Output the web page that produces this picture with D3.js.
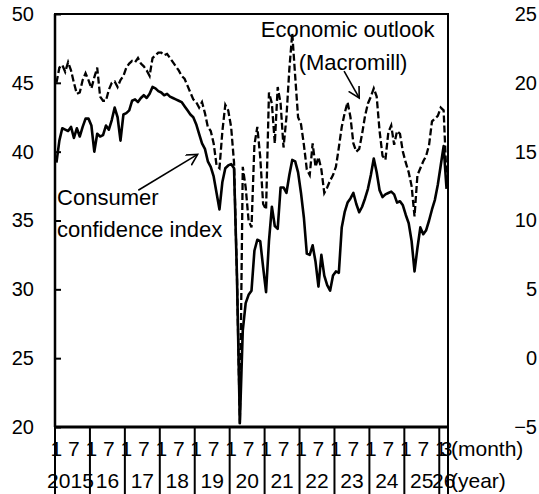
<!DOCTYPE html>
<html>
<head>
<meta charset="utf-8">
<script src="https://cdn.jsdelivr.net/npm/d3@7"></script>
<style>
  body { margin: 0; background: #fff; }
  text { font-family: "Liberation Sans", Arial, sans-serif; fill: #000; }
</style>
</head>
<body>
<div id="chart"></div>
<script>
// year labels along the bottom, months labelled in each year
var years = ['2015', '16', '17', '18', '19', '20', '21', '22', '23', '24', '25', '26']
var monthTicks = [1, 7]
var lastMonth = 3 // data ends March 2026

// consumer confidence index (left axis), monthly from Jan 2015
var cci = [
  39.2, 40.8, 41.7, 41.6, 41.5, 41.8, 41.0, 41.7, 41.1, 41.8, 42.4, 42.4,
  41.9, 40.0, 41.3, 41.1, 41.2, 41.9, 41.6, 42.3, 43.2, 42.5, 40.8, 42.7,
  42.8, 43.0, 43.7, 43.8, 43.6, 43.9, 44.1, 43.9, 44.2, 44.7, 44.6, 44.4,
  44.3, 44.1, 44.2, 44.0, 43.9, 43.8, 43.7, 43.6, 43.3, 43.0, 42.7, 42.5,
  42.0, 41.3, 40.6, 40.2, 39.3, 38.9, 38.2, 37.0, 35.8, 37.8, 38.8, 39.0,
  39.1, 38.8, 31.0, 20.3, 27.0, 29.0, 29.6, 29.9, 32.8, 33.6, 33.5, 31.6,
  29.8, 33.5, 36.0, 34.6, 34.4, 37.4, 37.4, 37.0, 38.3, 39.4, 39.3, 38.5,
  37.0, 35.2, 32.6, 32.5, 33.2, 32.0, 30.2, 32.5, 31.0, 30.3, 29.9, 31.0,
  31.3, 31.2, 34.5, 35.6, 36.3, 36.6, 37.0, 36.2, 35.6, 36.0, 36.6, 37.3,
  38.3, 39.5, 38.5, 37.2, 36.7, 36.9, 37.0, 37.1, 36.9, 36.3, 36.4, 36.1,
  35.4, 34.8, 33.5, 31.3, 33.0, 34.5, 34.0, 34.3, 35.0, 35.8, 36.5, 37.6,
  39.0, 40.4, 37.3
]

// economic outlook (Macromill), right axis
var macromill = [
  20.0, 21.1, 21.3, 20.8, 21.5, 20.9, 20.0, 19.2, 19.3, 20.2, 20.7, 20.2,
  19.6, 20.4, 21.1, 19.0, 18.7, 18.7, 19.5, 20.0, 20.1, 19.7, 20.2, 20.5,
  21.1, 21.4, 21.6, 21.5, 21.8, 21.4, 21.2, 20.9, 20.5, 21.8, 22.0, 22.2,
  22.2, 22.0, 22.1, 21.8, 21.5, 21.2, 20.9, 20.5, 20.3, 19.8, 19.3, 18.8,
  18.6, 18.2, 18.6, 17.8, 16.8, 16.5, 15.6, 14.0, 13.8, 16.5, 18.4, 18.0,
  16.8, 14.2, 6.0, -4.8, 13.9, 12.4, 10.0, 9.5, 15.5, 16.8, 14.6, 11.2,
  10.8, 19.3, 18.5, 15.6, 19.7, 18.5, 15.3, 17.5, 21.0, 23.6, 20.5, 17.5,
  17.0, 15.5, 13.7, 13.3, 15.6, 13.9, 14.6, 13.7, 12.0, 12.4, 12.9, 13.3,
  13.9, 15.3, 16.8, 17.8, 18.6, 17.5, 15.6, 15.0, 15.2, 16.3, 17.6, 18.5,
  19.0, 19.6, 19.0, 16.5, 14.7, 14.4, 16.4, 16.9, 15.5, 16.5, 16.3, 15.0,
  14.2, 13.5, 12.5, 10.3, 13.3, 13.8, 14.3, 14.7, 15.5, 17.2, 17.4, 17.6,
  18.2, 18.0, 13.0
]

var leftTicks = [20, 25, 30, 35, 40, 45, 50]
var rightTicks = [-5, 0, 5, 10, 15, 20, 25]

var W = 539, H = 494
var m = {left: 55, right: 91, top: 14, bottom: 67}
var nMonths = cci.length

var svg = d3.select('#chart').append('svg')
  .attr('width', W).attr('height', H)

var x = d3.scaleLinear().domain([0, nMonths]).range([m.left, W - m.right])
var yL = d3.scaleLinear().domain([20, 50]).range([H - m.bottom, m.top])
var yR = d3.scaleLinear().domain([-5, 25]).range([H - m.bottom, m.top])

var defs = svg.append('defs')
defs.append('marker')
  .attr('id', 'arr')
  .attr('markerUnits', 'userSpaceOnUse')
  .attr('markerWidth', 14).attr('markerHeight', 14)
  .attr('refX', 11).attr('refY', 6)
  .attr('orient', 'auto')
  .append('path')
  .attr('d', 'M0,0 L11,6 L0,12')
  .attr('fill', 'none').attr('stroke', '#000').attr('stroke-width', 1.6)

// left axis: ticks pointing inwards
var gl = svg.append('g')
  .attr('transform', 'translate(' + m.left + ',0)')
  .call(d3.axisLeft(yL).tickValues(leftTicks).tickSize(-6).tickPadding(21))
gl.select('.domain').remove()
gl.selectAll('.tick line').attr('stroke-width', 2)
gl.selectAll('text').style('font-size', '20px')

// right axis: labels only
var gr = svg.append('g')
  .attr('transform', 'translate(' + (W - 2) + ',0)')
  .call(d3.axisLeft(yR).tickValues(rightTicks).tickSize(0).tickPadding(0))
gr.select('.domain').remove()
gr.selectAll('text').style('font-size', '20px')

var line = function(yScale) {
  return d3.line()
    .x(function(d, i) { return x(i + 0.5) })
    .y(function(d) { return yScale(d) })
}

svg.append('path')
  .datum(cci)
  .attr('d', line(yL))
  .attr('fill', 'none').attr('stroke', '#000')
  .attr('stroke-width', 2.6).attr('stroke-linejoin', 'round')

svg.append('path')
  .datum(macromill)
  .attr('d', line(yR))
  .attr('fill', 'none').attr('stroke', '#000')
  .attr('stroke-width', 2.3).attr('stroke-dasharray', '7,3')

// frame
var x0 = x(0), x1 = x(nMonths), yT = yL(50), yB = yL(20)
svg.append('rect')
  .attr('x', x0).attr('y', yT).attr('width', x1 - x0).attr('height', yB - yT)
  .attr('fill', 'none').attr('stroke', '#000').attr('stroke-width', 2)
svg.append('line')
  .attr('x1', x0 - 1).attr('x2', x1 + 1).attr('y1', yB).attr('y2', yB)
  .attr('stroke', '#000').attr('stroke-width', 3)
svg.append('line')
  .attr('x1', x0).attr('x2', x0).attr('y1', yT).attr('y2', yB)
  .attr('stroke', '#000').attr('stroke-width', 2.5)

// x axis: year separators, month labels, year labels
var xg = svg.append('g')
years.forEach(function(yr, k) {
  var start = k * 12
  var end = Math.min(start + 12, nMonths)
  xg.append('line')
    .attr('x1', x(start)).attr('x2', x(start))
    .attr('y1', yB).attr('y2', H)
    .attr('stroke', '#000').attr('stroke-width', 2)
  var ticks = k === years.length - 1 ? [1, lastMonth] : monthTicks
  ticks.forEach(function(mo) {
    xg.append('text')
      .attr('x', x(start + mo - 0.5)).attr('y', yB + 29)
      .attr('text-anchor', 'middle')
      .style('font-size', '21px')
      .text(mo)
  })
  xg.append('text')
    .attr('x', x((start + end) / 2) - (k === 0 ? 2 : 0)).attr('y', yB + 61)
    .attr('text-anchor', 'middle')
    .style('font-size', '21px')
    .text(yr)
})
xg.append('line')
  .attr('x1', x1).attr('x2', x1).attr('y1', yT).attr('y2', H)
  .attr('stroke', '#000').attr('stroke-width', 2)

svg.append('text').attr('x', x1 + 3).attr('y', yB + 29)
  .style('font-size', '21px').text('(month)')
svg.append('text').attr('x', x1 + 3).attr('y', yB + 61)
  .style('font-size', '21px').text('(year)')

// annotations
var ann = svg.append('g').style('font-size', '22px')
ann.append('text').attr('x', x(70.7)).attr('y', yL(48.3)).text('Economic outlook')
ann.append('text').attr('x', x(83.7)).attr('y', yL(45.9)).text('(Macromill)')
ann.append('text').attr('x', x(0.7)).attr('y', yL(36.1)).text('Consumer')
ann.append('text').attr('x', x(0.7)).attr('y', yL(33.8)).text('confidence index')

svg.append('line')
  .attr('x1', x(28.6)).attr('y1', yL(37.2))
  .attr('x2', x(49)).attr('y2', yL(39.8))
  .attr('stroke', '#000').attr('stroke-width', 1.6)
  .attr('marker-end', 'url(#arr)')
svg.append('line')
  .attr('x1', x(99.3)).attr('y1', yR(20.85))
  .attr('x2', x(104.5)).attr('y2', yR(18.9))
  .attr('stroke', '#000').attr('stroke-width', 1.6)
  .attr('marker-end', 'url(#arr)')
</script>
</body>
</html>
